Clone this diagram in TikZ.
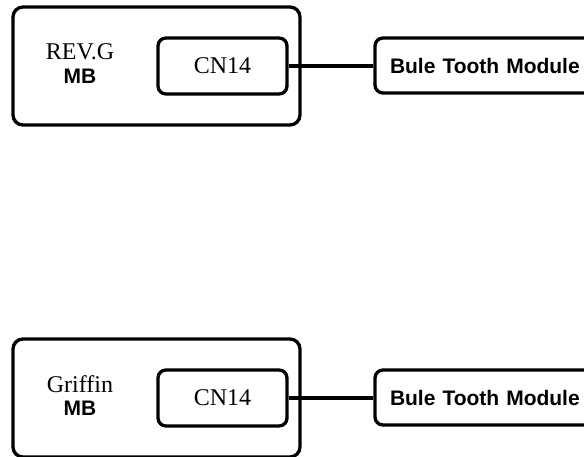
\documentclass[tikz,border=0pt]{standalone}
\usepackage{fontspec}
\setmainfont{Liberation Serif}
\setsansfont{Liberation Sans}
\tikzset{
  board/.style={draw,line width=3.3pt,rounded corners=10pt,minimum width=287pt,minimum height=118pt},
  conn/.style={draw,line width=3.3pt,rounded corners=8pt,minimum width=129pt,minimum height=56pt,font=\fontsize{24}{28}\selectfont},
  module/.style={draw,line width=3.3pt,rounded corners=8pt,minimum height=55pt,text width=235pt,inner xsep=15pt,align=left,font=\sffamily\bfseries\fontsize{21}{25}\selectfont},
}
\begin{document}
\begin{tikzpicture}[x=1pt,y=1pt]
\useasboundingbox (0,0) rectangle (584,-457);
\clip (0,0) rectangle (584,-457);
\foreach \y/\n/\rev in {0/a/REV.G,332/b/Griffin}{
  \node[board] (mb\n) at (156.5,-66-\y) {};
  \node[font=\fontsize{24}{28}\selectfont] (rev\n) at (80,-52-\y) {\rev};
  \node[font=\sffamily\bfseries\fontsize{21}{25}\selectfont] (lbl\n) at (80,-76-\y) {MB};
  \node[conn] (cn\n) at (222.5,-66-\y) {CN14};
  \node[module] (bt\n) at (507.5,-65.5-\y) {Bule Tooth Module};
  \draw[line width=3.3pt] (cn\n.east) -- (cn\n.east -| bt\n.west);
}
\end{tikzpicture}
\end{document}
